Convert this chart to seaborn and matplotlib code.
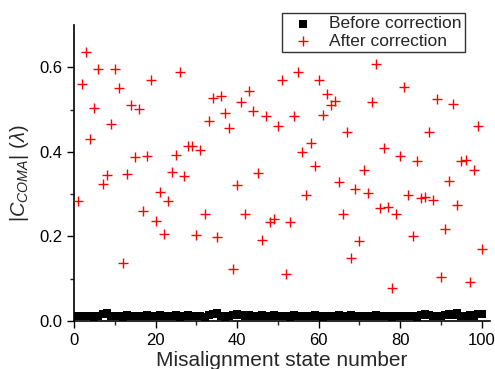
import numpy as np
import pandas as pd
import matplotlib
matplotlib.use("Agg")
import matplotlib.pyplot as plt
import seaborn as sns

state = list(range(1, 101))

after = [0.284, 0.560, 0.637, 0.431, 0.503, 0.596, 0.323, 0.346, 0.467, 0.596,
         0.551, 0.136, 0.347, 0.510, 0.388, 0.502, 0.260, 0.391, 0.569, 0.236,
         0.304, 0.206, 0.284, 0.353, 0.392, 0.590, 0.344, 0.413, 0.413, 0.204,
         0.405, 0.254, 0.474, 0.527, 0.198, 0.533, 0.492, 0.456, 0.124, 0.322,
         0.518, 0.252, 0.544, 0.497, 0.351, 0.192, 0.484, 0.234, 0.241, 0.461,
         0.569, 0.110, 0.234, 0.484, 0.590, 0.399, 0.299, 0.422, 0.367, 0.570,
         0.486, 0.537, 0.510, 0.521, 0.329, 0.254, 0.446, 0.150, 0.311, 0.189,
         0.358, 0.302, 0.518, 0.608, 0.267, 0.410, 0.270, 0.079, 0.254, 0.391,
         0.553, 0.297, 0.200, 0.379, 0.292, 0.294, 0.447, 0.286, 0.525, 0.103,
         0.217, 0.331, 0.514, 0.275, 0.379, 0.380, 0.092, 0.357, 0.462, 0.170]

before = [0.012, 0.013, 0.011, 0.012, 0.010, 0.013, 0.016, 0.018, 0.012, 0.011,
          0.013, 0.010, 0.015, 0.012, 0.011, 0.013, 0.012, 0.014, 0.013, 0.012,
          0.015, 0.011, 0.013, 0.012, 0.014, 0.010, 0.012, 0.015, 0.011, 0.013,
          0.012, 0.010, 0.014, 0.017, 0.019, 0.012, 0.010, 0.011, 0.014, 0.016,
          0.015, 0.013, 0.014, 0.012, 0.013, 0.015, 0.011, 0.013, 0.014, 0.012,
          0.011, 0.013, 0.010, 0.014, 0.012, 0.011, 0.013, 0.012, 0.014, 0.011,
          0.010, 0.012, 0.013, 0.011, 0.015, 0.013, 0.012, 0.014, 0.013, 0.012,
          0.011, 0.013, 0.012, 0.014, 0.011, 0.013, 0.012, 0.010, 0.012, 0.013,
          0.011, 0.013, 0.012, 0.010, 0.014, 0.017, 0.015, 0.013, 0.011, 0.012,
          0.014, 0.016, 0.015, 0.018, 0.013, 0.011, 0.014, 0.012, 0.016, 0.017]

df_before = pd.DataFrame({"state": state, "value": before})
df_after = pd.DataFrame({"state": state, "value": after})

sns.set_style("ticks")
plt.rcParams["font.family"] = ["Liberation Sans", "DejaVu Sans"]
plt.rcParams["mathtext.fontset"] = "custom"
plt.rcParams["mathtext.rm"] = "Liberation Sans"
plt.rcParams["mathtext.it"] = "Liberation Sans:italic"

fig = plt.figure(figsize=(4.95, 3.69), dpi=100)
ax = fig.add_axes([74 / 495, 1 - 321 / 369, (490 - 74) / 495, (321 - 25) / 369])

sns.scatterplot(data=df_before, x="state", y="value", marker="s", color="black",
                s=30, edgecolor="black", linewidth=0, ax=ax, label="Before correction",
                zorder=3)
sns.scatterplot(data=df_after, x="state", y="value", marker="+", color="red",
                s=48, linewidth=1.0, ax=ax, label="After correction", zorder=4)

ax.set_xlim(0, 102)
ax.set_ylim(0, 0.70)
ax.set_xticks([0, 20, 40, 60, 80, 100])
ax.set_xticks([10, 30, 50, 70, 90], minor=True)
ax.set_yticks([0.0, 0.2, 0.4, 0.6])
ax.set_yticks([0.1, 0.3, 0.5], minor=True)
ax.set_yticklabels(["0.0", "0.2", "0.4", "0.6"])
ax.tick_params(axis="both", which="major", direction="out", length=5, width=1,
               labelsize=12, colors="black")
ax.tick_params(axis="both", which="minor", direction="out", length=3, width=1)
for s in ["left", "bottom"]:
    ax.spines[s].set_linewidth(1.2)
    ax.spines[s].set_color("black")
sns.despine(ax=ax)

ax.set_xlabel("Misalignment state number", fontsize=15, labelpad=2)
ax.set_ylabel(r"$|C_{COMA}|$ ($\lambda$)", fontsize=14.5, labelpad=6)

ax.get_legend().remove()
handles, labels = ax.get_legend_handles_labels()
leg = fig.legend(handles, labels, loc="upper left",
                 bbox_to_anchor=(282 / 495, 1 - 12.5 / 369),
                 frameon=True, fancybox=False, fontsize=12.5,
                 borderpad=0.2, labelspacing=0.15, handletextpad=0.5,
                 handlelength=2.0, borderaxespad=0)
leg.get_frame().set_edgecolor("black")
leg.get_frame().set_linewidth(1.0)

fig.savefig("out.png", dpi=100)
